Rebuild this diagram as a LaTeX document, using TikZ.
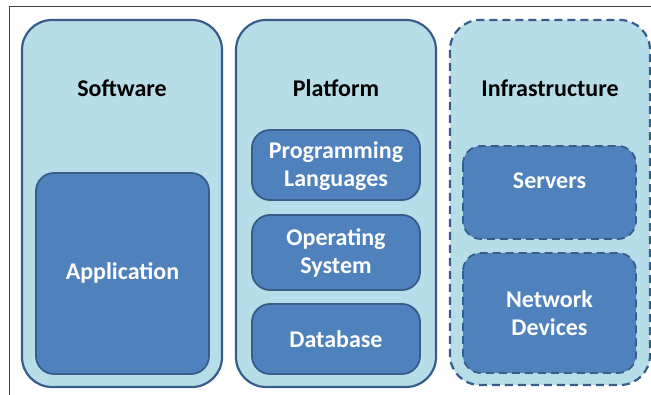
\documentclass[tikz,border=0pt]{standalone}
\usepackage{fontspec}
\setmainfont{Carlito}
\definecolor{outerfill}{HTML}{B7DDE8}
\definecolor{innerfill}{HTML}{4F81BD}
\definecolor{edge}{HTML}{385D8A}
\tikzset{
  outerbox/.style={draw=edge, fill=outerfill, line width=2.2pt, rounded corners=30pt},
  innerbox/.style={draw=edge, fill=innerfill, line width=1.8pt, rounded corners=18pt},
  dashedline/.style={dash pattern=on 8pt off 5pt},
  titletext/.style={font=\fontsize{24}{27.5}\selectfont\bfseries, text=black, align=center, inner sep=0pt},
  innertext/.style={font=\fontsize{24}{27.5}\selectfont\bfseries, text=white, align=center, inner sep=0pt}
}
\begin{document}
\begin{tikzpicture}[x=1pt,y=-1pt]
\useasboundingbox (0,0) rectangle (651,395);
\fill[white] (0,0) rectangle (651,395);
\draw[black!75, line width=1pt] (9,395) -- (9,7) -- (651,7);
% outer boxes
\draw[outerbox] (22,20) rectangle (222,387);
\draw[outerbox] (236,20) rectangle (436,387);
\draw[outerbox, dashedline] (450,20) rectangle (650,385);
% inner boxes
\draw[innerbox] (36,173) rectangle (209,374);
\draw[innerbox] (252,130) rectangle (420,200);
\draw[innerbox] (252,215) rectangle (420,290);
\draw[innerbox] (252,304) rectangle (420,374);
\draw[innerbox, dashedline] (463,146) rectangle (636,239);
\draw[innerbox, dashedline] (463,253) rectangle (636,373);
% texts
\node[titletext] (sw) at (122,88) {Software};
\node[titletext] (pf) at (336,88) {Platform};
\node[titletext] (inf) at (550,88) {Infrastructure};
\node[innertext] (app) at (122.5,273) {Application};
\node[innertext] (pl) at (336,166) {Programming\\Languages};
\node[innertext] (os) at (336,253) {Operating\\System};
\node[innertext] (db) at (336,339) {Database};
\node[innertext] (srv) at (549.5,181) {Servers};
\node[innertext] (nd) at (549.5,313) {Network\\Devices};
\end{tikzpicture}
\end{document}
